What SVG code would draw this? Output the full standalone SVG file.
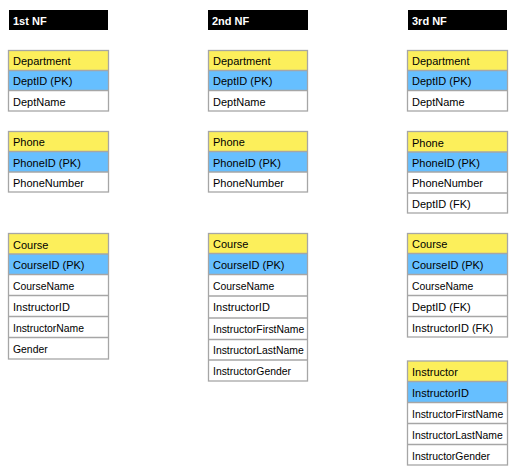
<svg xmlns="http://www.w3.org/2000/svg" width="519" height="475" viewBox="0 0 519 475">
<style>
text{font-family:"Liberation Sans",Arial,sans-serif;font-size:11px;fill:#000}
.hd{fill:#000}
.ht{fill:#fff;font-weight:bold;font-size:11px}
.y{fill:#fcef5b}
.b{fill:#66bfff}
.w{fill:#fff}
.frame{fill:none;stroke:#a6a6a6;stroke-width:1.3}
.ln{stroke:#a6a6a6;stroke-width:1.3}
.s{font-size:10.4px}
</style>
<rect width="519" height="475" fill="#fff"/>

<g id="hdr1"><rect class="hd" x="9" y="10" width="99" height="20"/><text class="ht" x="13" y="24.5">1st NF</text></g>
<g id="hdr2"><rect class="hd" x="208" y="10" width="100" height="20"/><text class="ht" x="212" y="24.5">2nd NF</text></g>
<g id="hdr3"><rect class="hd" x="408" y="10" width="99" height="20"/><text class="ht" x="412" y="24.5">3rd NF</text></g>

<!-- 1st NF -->
<g id="dept1">
<rect class="y" x="8.5" y="50.5" width="100" height="20"/>
<rect class="b" x="8.5" y="70.5" width="100" height="20"/>
<rect class="w" x="8.5" y="90.5" width="100" height="20.5"/>
<line class="ln" x1="8.5" y1="70.5" x2="108.5" y2="70.5"/>
<line class="ln" x1="8.5" y1="90.5" x2="108.5" y2="90.5"/>
<rect class="frame" x="8.5" y="50.5" width="100" height="60.5"/>
<text x="13" y="65">Department</text><text x="13" y="85">DeptID (PK)</text><text x="13" y="105.5">DeptName</text>
</g>
<g id="phone1">
<rect class="y" x="8.5" y="131.5" width="100" height="20"/>
<rect class="b" x="8.5" y="151.5" width="100" height="20.5"/>
<rect class="w" x="8.5" y="172" width="100" height="20"/>
<line class="ln" x1="8.5" y1="151.5" x2="108.5" y2="151.5"/>
<line class="ln" x1="8.5" y1="172" x2="108.5" y2="172"/>
<rect class="frame" x="8.5" y="131.5" width="100" height="60.5"/>
<text x="13" y="146">Phone</text><text x="13" y="166.5">PhoneID (PK)</text><text x="13" y="187">PhoneNumber</text>
</g>
<g id="course1">
<rect class="y" x="8.5" y="233.5" width="100" height="20.5"/>
<rect class="b" x="8.5" y="254" width="100" height="20.5"/>
<rect class="w" x="8.5" y="274.5" width="100" height="84.5"/>
<line class="ln" x1="8.5" y1="254" x2="108.5" y2="254"/>
<line class="ln" x1="8.5" y1="274.5" x2="108.5" y2="274.5"/>
<line class="ln" x1="8.5" y1="295.5" x2="108.5" y2="295.5"/>
<line class="ln" x1="8.5" y1="316.5" x2="108.5" y2="316.5"/>
<line class="ln" x1="8.5" y1="337.5" x2="108.5" y2="337.5"/>
<rect class="frame" x="8.5" y="233.5" width="100" height="125.5"/>
<text x="13" y="248.5">Course</text><text x="13" y="269">CourseID (PK)</text>
<text class="s" x="13" y="289.5">CourseName</text><text x="13" y="310.5">InstructorID</text>
<text class="s" x="13" y="331.5">InstructorName</text><text class="s" x="13" y="352.5">Gender</text>
</g>

<!-- 2nd NF -->
<g id="dept2">
<rect class="y" x="208.5" y="50.5" width="99" height="20"/>
<rect class="b" x="208.5" y="70.5" width="99" height="20"/>
<rect class="w" x="208.5" y="90.5" width="99" height="20.5"/>
<line class="ln" x1="208.5" y1="70.5" x2="307.5" y2="70.5"/>
<line class="ln" x1="208.5" y1="90.5" x2="307.5" y2="90.5"/>
<rect class="frame" x="208.5" y="50.5" width="99" height="60.5"/>
<text x="213" y="65">Department</text><text x="213" y="85">DeptID (PK)</text><text x="213" y="105.5">DeptName</text>
</g>
<g id="phone2">
<rect class="y" x="208.5" y="131.5" width="99" height="20"/>
<rect class="b" x="208.5" y="151.5" width="99" height="20.5"/>
<rect class="w" x="208.5" y="172" width="99" height="20"/>
<line class="ln" x1="208.5" y1="151.5" x2="307.5" y2="151.5"/>
<line class="ln" x1="208.5" y1="172" x2="307.5" y2="172"/>
<rect class="frame" x="208.5" y="131.5" width="99" height="60.5"/>
<text x="213" y="146">Phone</text><text x="213" y="166.5">PhoneID (PK)</text><text x="213" y="187">PhoneNumber</text>
</g>
<g id="course2">
<rect class="y" x="208.5" y="233.5" width="99" height="20"/>
<rect class="b" x="208.5" y="253.5" width="99" height="21"/>
<rect class="w" x="208.5" y="274.5" width="99" height="106.5"/>
<line class="ln" x1="208.5" y1="253.5" x2="307.5" y2="253.5"/>
<line class="ln" x1="208.5" y1="274.5" x2="307.5" y2="274.5"/>
<line class="ln" x1="208.5" y1="296" x2="307.5" y2="296"/>
<line class="ln" x1="208.5" y1="318" x2="307.5" y2="318"/>
<line class="ln" x1="208.5" y1="339.5" x2="307.5" y2="339.5"/>
<line class="ln" x1="208.5" y1="360" x2="307.5" y2="360"/>
<rect class="frame" x="208.5" y="233.5" width="99" height="147.5"/>
<text x="213" y="248">Course</text><text x="213" y="268.5">CourseID (PK)</text>
<text class="s" x="213" y="289.5">CourseName</text><text x="213" y="311">InstructorID</text>
<text class="s" x="213" y="332.5">InstructorFirstName</text><text class="s" x="213" y="353.5">InstructorLastName</text>
<text class="s" x="213" y="374.5">InstructorGender</text>
</g>

<!-- 3rd NF -->
<g id="dept3">
<rect class="y" x="407.5" y="50.5" width="100" height="20"/>
<rect class="b" x="407.5" y="70.5" width="100" height="20"/>
<rect class="w" x="407.5" y="90.5" width="100" height="20.5"/>
<line class="ln" x1="407.5" y1="70.5" x2="507.5" y2="70.5"/>
<line class="ln" x1="407.5" y1="90.5" x2="507.5" y2="90.5"/>
<rect class="frame" x="407.5" y="50.5" width="100" height="60.5"/>
<text x="412" y="65">Department</text><text x="412" y="85">DeptID (PK)</text><text x="412" y="105.5">DeptName</text>
</g>
<g id="phone3">
<rect class="y" x="407.5" y="131.5" width="100" height="20.5"/>
<rect class="b" x="407.5" y="152" width="100" height="20"/>
<rect class="w" x="407.5" y="172" width="100" height="41"/>
<line class="ln" x1="407.5" y1="152" x2="507.5" y2="152"/>
<line class="ln" x1="407.5" y1="172" x2="507.5" y2="172"/>
<line class="ln" x1="407.5" y1="193" x2="507.5" y2="193"/>
<rect class="frame" x="407.5" y="131.5" width="100" height="81.5"/>
<text x="412" y="146.5">Phone</text><text x="412" y="166.5">PhoneID (PK)</text><text x="412" y="187">PhoneNumber</text><text x="412" y="207.5">DeptID (FK)</text>
</g>
<g id="course3">
<rect class="y" x="407.5" y="233.5" width="100" height="20"/>
<rect class="b" x="407.5" y="253.5" width="100" height="21"/>
<rect class="w" x="407.5" y="274.5" width="100" height="62.5"/>
<line class="ln" x1="407.5" y1="253.5" x2="507.5" y2="253.5"/>
<line class="ln" x1="407.5" y1="274.5" x2="507.5" y2="274.5"/>
<line class="ln" x1="407.5" y1="295.5" x2="507.5" y2="295.5"/>
<line class="ln" x1="407.5" y1="316.5" x2="507.5" y2="316.5"/>
<rect class="frame" x="407.5" y="233.5" width="100" height="103.5"/>
<text x="412" y="248">Course</text><text x="412" y="268.5">CourseID (PK)</text>
<text class="s" x="412" y="289.5">CourseName</text><text x="412" y="310.5">DeptID (FK)</text><text x="412" y="331.5">InstructorID (FK)</text>
</g>
<g id="instructor3">
<rect class="y" x="407.5" y="361" width="100" height="20.5"/>
<rect class="b" x="407.5" y="381.5" width="100" height="21"/>
<rect class="w" x="407.5" y="402.5" width="100" height="62.5"/>
<line class="ln" x1="407.5" y1="381.5" x2="507.5" y2="381.5"/>
<line class="ln" x1="407.5" y1="402.5" x2="507.5" y2="402.5"/>
<line class="ln" x1="407.5" y1="423.5" x2="507.5" y2="423.5"/>
<line class="ln" x1="407.5" y1="444.5" x2="507.5" y2="444.5"/>
<rect class="frame" x="407.5" y="361" width="100" height="104"/>
<text x="412" y="376">Instructor</text><text x="412" y="396.5">InstructorID</text>
<text class="s" x="412" y="417.5">InstructorFirstName</text><text class="s" x="412" y="438.5">InstructorLastName</text>
<text class="s" x="412" y="459.5">InstructorGender</text>
</g>
</svg>
